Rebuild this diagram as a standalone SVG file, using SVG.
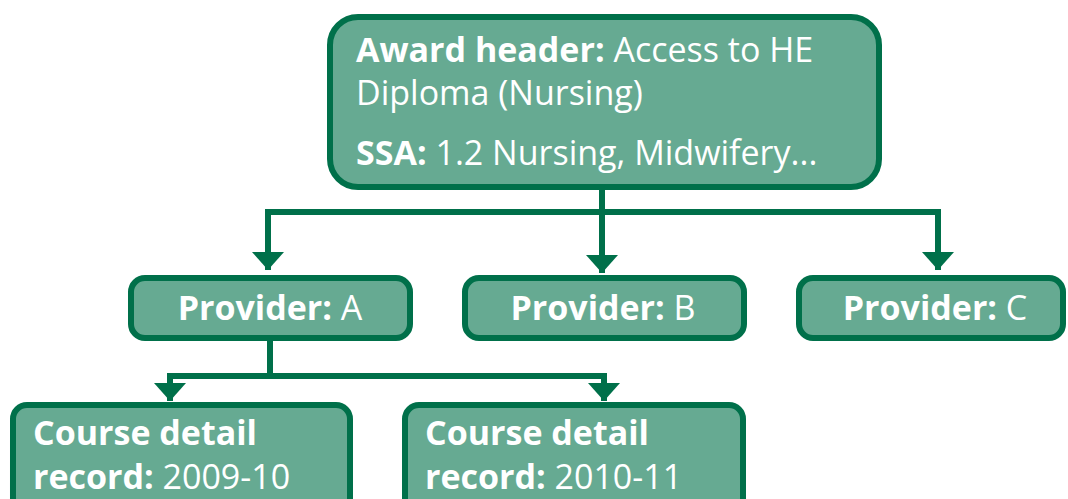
<svg xmlns="http://www.w3.org/2000/svg" width="1068" height="499" viewBox="0 0 1068 499">
<style>
.box{fill:#66aa92;stroke:#00704a;stroke-width:6}
.t{font-family:"Open Sans","Noto Sans",sans-serif;font-size:34px;fill:#ffffff}
.b{font-weight:bold}
.c{fill:none;stroke:#00704a;stroke-width:6}
</style>
<defs>
<marker id="ah" viewBox="0 0 18 32" refX="18" refY="16" markerWidth="18" markerHeight="32" markerUnits="userSpaceOnUse" orient="auto">
<path d="M0,0 L18,16 L0,32 z" fill="#00704a"/>
</marker>
</defs>
<g id="connectors">
<path class="c" d="M602 190 V212 M265 212 H941"/>
<path class="c" d="M268 212 V270" marker-end="url(#ah)"/>
<path class="c" d="M602 212 V273" marker-end="url(#ah)"/>
<path class="c" d="M938 212 V270" marker-end="url(#ah)"/>
<path class="c" d="M270 340 V376 M167 376 H607"/>
<path class="c" d="M170 376 V401" marker-end="url(#ah)"/>
<path class="c" d="M604 376 V401" marker-end="url(#ah)"/>
</g>
<g id="award">
<rect class="box" x="330" y="17" width="549" height="170" rx="28"/>
<text class="t" x="356" y="62"><tspan class="b">Award header:</tspan> Access to HE</text>
<text class="t" x="356" y="105">Diploma (Nursing)</text>
<text class="t" x="356" y="165"><tspan class="b">SSA:</tspan> 1.2 Nursing, Midwifery...</text>
</g>
<g id="providerA">
<rect class="box" x="131" y="278" width="279" height="60" rx="14"/>
<text class="t" x="270" y="320" text-anchor="middle"><tspan class="b">Provider:</tspan> A</text>
</g>
<g id="providerB">
<rect class="box" x="465" y="278" width="279" height="60" rx="14"/>
<text class="t" x="603" y="320" text-anchor="middle"><tspan class="b">Provider:</tspan> B</text>
</g>
<g id="providerC">
<rect class="box" x="799" y="278" width="264" height="60" rx="14"/>
<text class="t" x="935" y="320" text-anchor="middle"><tspan class="b">Provider:</tspan> C</text>
</g>
<g id="course1">
<rect class="box" x="13" y="405" width="337" height="110" rx="14"/>
<text class="t b" x="33" y="445">Course detail</text>
<text class="t" x="33" y="489"><tspan class="b">record:</tspan> 2009-10</text>
</g>
<g id="course2">
<rect class="box" x="405" y="405" width="338" height="110" rx="14"/>
<text class="t b" x="425" y="445">Course detail</text>
<text class="t" x="425" y="489"><tspan class="b">record:</tspan> 2010-11</text>
</g>
</svg>
